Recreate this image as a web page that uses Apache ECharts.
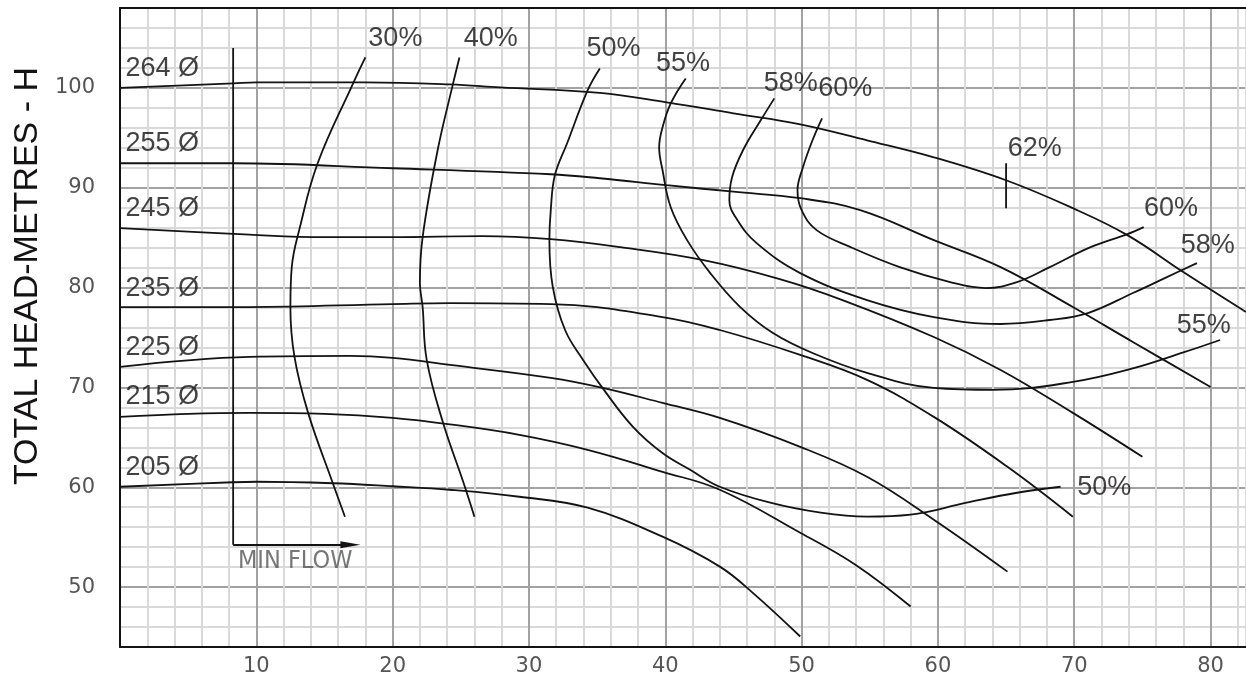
<!DOCTYPE html>
<html>
<head>
<meta charset="utf-8">
<script src="https://cdn.jsdelivr.net/npm/echarts@6/dist/echarts.min.js"></script>
<style>
  html, body { margin: 0; padding: 0; background: #fff; }
  #chart { width: 1246px; height: 682px; }
</style>
</head>
<body>
<div id="chart"></div>
<script>
// impeller diameter curves, [flow, head]
const d264 = [[0, 100], [8.3, 100.45], [10, 100.55], [18, 100.55], [24.2, 100.35], [27.9, 100.05], [35.2, 99.5], [40.1, 98.55], [45, 97.45], [49.9, 96.35], [54.8, 94.75], [59.7, 93.05], [65, 90.75], [69.9, 87.95], [73.9, 85.25], [78, 81.55], [82.6, 77.55]]
const d255 = [[0, 92.45], [8.3, 92.45], [20, 91.95], [31.6, 91.35], [35.2, 90.95], [40.1, 90.25], [45, 89.6], [49.9, 88.95], [54.3, 87.75], [59.7, 84.75], [64.6, 82.05], [69.9, 78.05], [74.3, 74.55], [80, 70.05]]
const d245 = [[0, 85.95], [9.5, 85.3], [15, 85.05], [20, 85.05], [26.6, 85.15], [31.6, 84.85], [36.7, 84.05], [42.8, 82.75], [48.4, 80.85], [53, 78.75], [59.7, 75.05], [64.6, 71.75], [69.9, 67.45], [75, 63.05]]
const d235 = [[0, 78.05], [9.5, 78.05], [20, 78.35], [24.2, 78.45], [31.6, 78.35], [39.8, 77.05], [44, 75.75], [49.9, 73.25], [54.8, 70.75], [59.7, 67.05], [65.1, 62.05], [69.9, 57.05]]
const d225 = [[0, 72.05], [9.5, 73.05], [16.9, 73.15], [20, 72.95], [24.2, 72.25], [31.6, 70.95], [35.4, 69.95], [39.8, 68.45], [44, 66.95], [49.9, 64.05], [54.8, 61.05], [59.7, 56.75], [65.1, 51.55]]
const d215 = [[0, 67.05], [5, 67.35], [9.5, 67.45], [15, 67.35], [20, 66.95], [24.2, 66.3], [29.3, 65.25], [34.3, 63.75], [39.8, 61.55], [44, 59.75], [49.9, 55.45], [54, 52.2], [58, 48.05]]
const d205 = [[0, 60.05], [8.3, 60.5], [10, 60.55], [15.6, 60.4], [20, 60.1], [24.2, 59.75], [29.3, 59.05], [34.3, 57.95], [39.8, 55.05], [44, 52.05], [46.4, 49.45], [49.9, 45.05]]

// efficiency curves
const e30 = [[18, 103.05], [17.1, 100.45], [14.5, 92.45], [13.2, 86.05], [12.6, 82.05], [12.5, 78.05], [12.8, 73.05], [13.8, 67.45], [15.6, 60.45], [16.5, 57.05]]
const e40 = [[24.9, 103.05], [24.4, 100.25], [23.3, 93.75], [22.2, 85.05], [22, 80.45], [22.2, 78.05], [22.5, 72.75], [23.7, 66.45], [25.2, 60.45], [26, 57.05]]
const e50 = [[35.2, 101.95], [34.3, 99.75], [32.8, 94.45], [31.9, 91.25], [31.6, 87.75], [31.5, 84.75], [31.75, 80.05], [32.65, 75.75], [33.97, 72.75], [35.5, 69.75], [37.63, 66.05], [39.77, 63.45], [41.82, 61.75], [44, 60.05], [47.7, 58.45], [51.4, 57.45], [54.8, 57.05], [58, 57.25], [62.1, 58.45], [65.8, 59.45], [69, 60.05]]
const e55 = [[41.5, 100.95], [40.4, 98.45], [39.8, 96.05], [39.55, 94.05], [39.8, 91.75], [40.4, 88.05], [41.6, 84.75], [43.3, 81.45], [45.5, 78.05], [47.9, 75.45], [50.8, 73.45], [54.8, 71.45], [59.7, 69.95], [64.1, 69.75], [69.9, 70.55], [74.3, 71.9], [78, 73.5], [80.7, 74.75]]
const e58 = [[48, 98.95], [47, 96.75], [45.7, 93.75], [44.9, 91.05], [44.7, 88.75], [45.3, 86.75], [46.7, 84.45], [49.9, 81.45], [54.8, 78.75], [59.7, 77.05], [64.6, 76.35], [68.2, 76.75], [71, 77.45], [74.3, 79.45], [76.8, 81.05], [79, 82.45]]
const e60 = [[51.5, 96.95], [50.8, 94.75], [50.1, 92.05], [49.7, 89.75], [50, 87.75], [51.1, 85.75], [53.6, 84.05], [57.2, 82.05], [60.9, 80.55], [63.5, 79.95], [65.8, 80.55], [68.2, 82.05], [71.2, 84.05], [73.9, 85.35], [75.1, 86.05]]
const e62 = [[65, 92.45], [65, 87.95]]

// min flow marker
const minFlowLine = [[8.3, 104], [8.3, 54.25]]
const minFlowArrow = [[8.3, 54.25], [16.9, 54.25]]

const diameterNames = ['264 Ø', '255 Ø', '245 Ø', '235 Ø', '225 Ø', '215 Ø', '205 Ø']
const diameterLabelY = [101.95, 94.45, 87.95, 79.95, 73.95, 69.05, 61.95]
const effNames = ['30%', '40%', '50%', '55%', '58%', '60%', '62%', '60%', '58%', '55%', '50%']
const effLabelX = [20.2, 27.2, 36.2, 41.3, 49.2, 53.2, 67.1, 77.1, 79.8, 79.5, 72.2]
const effLabelY = [104.95, 104.95, 103.95, 102.45, 100.45, 99.95, 93.95, 87.95, 84.25, 76.2, 59.95]

const ink = '#141212'
const minor = '#d9d9d9'
const major = '#a2a2a2'

function curve(data, smooth) {
  return {
    type: 'line',
    data: data,
    smooth: smooth === undefined ? 0.4 : smooth,
    showSymbol: false,
    silent: true,
    lineStyle: { color: ink, width: 1.8 },
    z: 3
  }
}

const series = [d264, d255, d245, d235, d225, d215, d205, e30, e40, e50, e55, e58, e60].map(d => curve(d))
series.push(curve(e62, false))
series.push(Object.assign(curve(minFlowLine, false), {
  markLine: {
    silent: true,
    symbol: ['none', 'triangle'],
    symbolSize: [7, 20],
    label: { show: false },
    lineStyle: { color: ink, width: 1.8, type: 'solid' },
    data: [[{ coord: minFlowArrow[0] }, { coord: minFlowArrow[1] }]]
  }
}))

series.push({
  type: 'scatter',
  symbolSize: 1,
  itemStyle: { color: 'rgba(0,0,0,0)' },
  silent: true,
  z: 5,
  label: {
    show: true,
    position: 'right',
    distance: 0,
    formatter: '{b}',
    color: ink,
    fontSize: 27,
    fontFamily: 'Liberation Sans, Arial, sans-serif'
  },
  data: diameterNames.map((n, i) => ({ name: n, value: [0.37, diameterLabelY[i]] }))
})

series.push({
  type: 'scatter',
  symbolSize: 1,
  itemStyle: { color: 'rgba(0,0,0,0)' },
  silent: true,
  z: 5,
  label: {
    show: true,
    position: 'inside',
    formatter: '{b}',
    color: ink,
    fontSize: 27,
    fontFamily: 'Liberation Sans, Arial, sans-serif'
  },
  data: effNames.map((n, i) => ({ name: n, value: [effLabelX[i], effLabelY[i]] }))
})

series.push({
  type: 'scatter',
  symbolSize: 1,
  itemStyle: { color: 'rgba(0,0,0,0)' },
  silent: true,
  z: 5,
  label: {
    show: true,
    position: 'inside',
    formatter: '{b}',
    color: '#555',
    fontSize: 25,
    fontFamily: 'Liberation Sans Narrow, DejaVu Sans Condensed, sans-serif'
  },
  data: [{ name: 'MIN FLOW', value: [12.85, 52.55] }]
})

const chart = echarts.init(document.getElementById('chart'))
chart.setOption({
  animation: false,
  backgroundColor: '#fff',
  grid: { left: 120, top: 8, right: -3, bottom: 35 },
  graphic: [{
    type: 'text',
    x: 28,
    y: 276,
    rotation: Math.PI / 2,
    style: {
      text: 'TOTAL HEAD-METRES - H',
      font: '34px "Liberation Sans", Arial, sans-serif',
      fill: ink,
      align: 'center',
      verticalAlign: 'middle'
    }
  }],
  xAxis: [{
    type: 'value',
    min: 0,
    max: 82.6,
    interval: 2,
    axisLine: { show: true, onZero: false, lineStyle: { color: ink, width: 2 } },
    axisTick: { show: false },
    splitLine: { show: true, lineStyle: { color: [major, minor, minor, minor, minor], width: 2 } },
    axisLabel: {
      margin: 9,
      color: '#555',
      fontSize: 21,
      fontFamily: 'DejaVu Sans, sans-serif',
      showMaxLabel: false,
      formatter: v => (v > 0 && v % 10 === 0 ? String(v) : '')
    }
  }, {
    type: 'value',
    position: 'top',
    min: 0,
    max: 82.6,
    axisLine: { show: true, onZero: false, lineStyle: { color: ink, width: 2 } },
    axisTick: { show: false },
    axisLabel: { show: false },
    splitLine: { show: false }
  }],
  yAxis: {
    type: 'value',
    min: 44,
    max: 108,
    interval: 2,
    axisLine: { show: true, onZero: false, lineStyle: { color: ink, width: 2 } },
    axisTick: { show: false },
    splitLine: { show: true, lineStyle: { color: [minor, minor, minor, major, minor], width: 2 } },
    axisLabel: {
      margin: 25,
      color: '#555',
      fontSize: 21,
      fontFamily: 'DejaVu Sans, sans-serif',
      formatter: v => (v >= 50 && v <= 100 && v % 10 === 0 ? String(v) : '')
    }
  },
  series: series
})
</script>
</body>
</html>
